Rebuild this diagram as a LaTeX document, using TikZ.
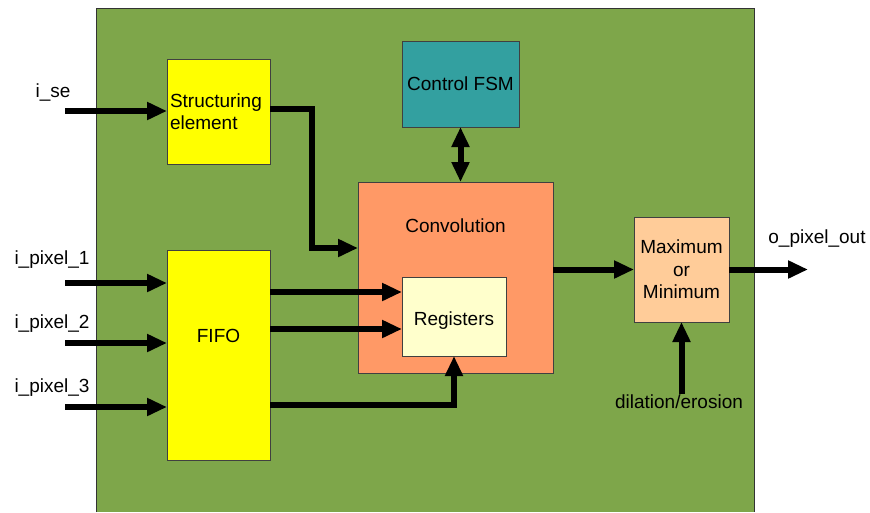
\documentclass[tikz,border=0pt]{standalone}
\usepackage{fontspec}
\setmainfont{Liberation Sans}
\usetikzlibrary{arrows.meta,positioning}
\definecolor{boardgreen}{RGB}{126,166,74}
\definecolor{seyellow}{RGB}{255,255,0}
\definecolor{fsmteal}{RGB}{51,160,160}
\definecolor{convorange}{RGB}{255,153,102}
\definecolor{regyellow}{RGB}{255,255,204}
\definecolor{maxpeach}{RGB}{255,204,153}
\tikzset{
  blk/.style={draw=black!75,line width=1pt,inner sep=0pt,outer sep=0pt,
    font=\fontsize{19}{22.5}\selectfont},
  pinlbl/.style={font=\fontsize{19}{22.5}\selectfont,inner sep=1pt},
  tip/.tip={Triangle[length=20pt,width=17pt]},
  sig/.style={line width=6pt,-tip},
}

\begin{document}
\begin{tikzpicture}[x=1pt,y=-1pt] % pixel coordinates, y down

\useasboundingbox (0,0) rectangle (870,512);
% the board
\fill[boardgreen] (96,8) rectangle (754,512);
\draw[line width=1pt,black!80] (96,512) |- (754,8) -- (754,512);

% blocks
\node[blk,fill=seyellow,minimum width=103pt,minimum height=105pt,
  text width=97pt,align=left] (sebox) at (218.5,111.5) {Structuring\\element};
\node[blk,fill=seyellow,minimum width=103pt,minimum height=210pt] (fifo) at (218.5,355) {};
\node[pinlbl] (fifolbl) at ([yshift=19pt]fifo.center) {FIFO};
\node[blk,fill=fsmteal,minimum width=117pt,minimum height=86pt] (fsm) at (460.5,84) {Control FSM};
\node[blk,fill=convorange,minimum width=195pt,minimum height=191pt] (conv) at (455.5,277.5) {};
\node[pinlbl] (convlbl) at ([yshift=-44pt]conv.north) {Convolution};
\node[blk,fill=regyellow,minimum width=104pt,minimum height=79pt] (regs) at (454,316.5) {};
\node[pinlbl] (regslbl) at ([yshift=-4pt]regs.center) {Registers};
\node[blk,fill=maxpeach,minimum width=95pt,minimum height=105pt,align=center] (minmax) at (681.5,269.5) {Maximum\\or\\Minimum};

% pins
\node[pinlbl] (lse) at (53,92) {i\_se};
\node[pinlbl] (lpix1) at (52,260) {i\_pixel\_1};
\node[pinlbl] (lpix2) at (52,324) {i\_pixel\_2};
\node[pinlbl] (lpix3) at (52,388) {i\_pixel\_3};
\node[pinlbl] (lout) at (817,239) {o\_pixel\_out};
\node[pinlbl] (dil) at (679,402) {dilation/erosion};
\coordinate (ise) at (65,111);
\coordinate (pin1) at (65,283);
\coordinate (pin2) at (65,343);
\coordinate (pin3) at (65,407);
\coordinate (pout) at (808,269.5);

% signals
\draw[sig] (ise) -- (ise -| sebox.west);
\draw[sig] (pin1) -- (pin1 -| fifo.west);
\draw[sig] (pin2) -- (pin2 -| fifo.west);
\draw[sig] (pin3) -- (pin3 -| fifo.west);
\draw[sig] ([yshift=3pt]sebox.east) -- ++(42,0) |- ([yshift=29.5pt]conv.west);
\draw[sig] (fifo.east |- 0,292) -- (regs.west |- 0,292);
\draw[sig] (fifo.east |- 0,329) -- (regs.west |- 0,329);
\draw[sig] (fifo.east |- 0,405) -| (regs.south);
\draw[line width=6pt,tip-tip] (fsm.south) -- (fsm.south |- conv.north);
\draw[sig] (conv.east |- minmax.west) -- (minmax.west);
\draw[sig] (minmax.east) -- (pout);
\draw[sig] (dil.north -| minmax.south) -- (minmax.south);

\end{tikzpicture}
\end{document}
